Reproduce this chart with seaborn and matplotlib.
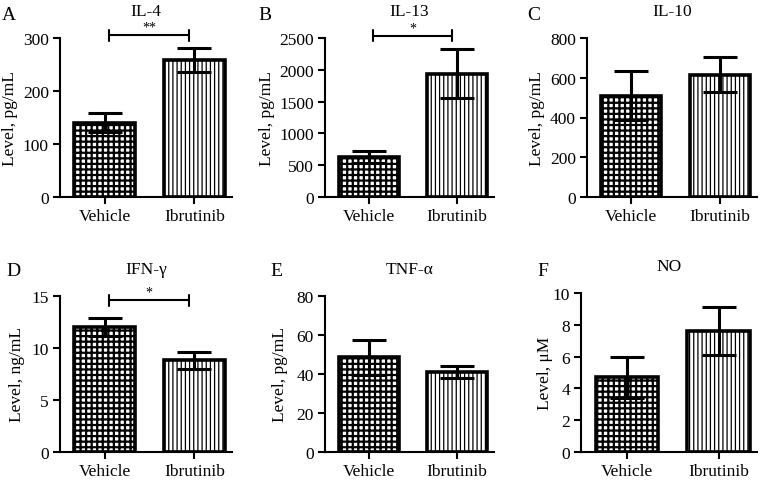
import numpy as np
import pandas as pd
import matplotlib
matplotlib.use("Agg")
import matplotlib.pyplot as plt
import seaborn as sns

sns.set_theme(style="ticks")
plt.rcParams['font.family'] = ['Liberation Serif', 'DejaVu Serif']

groups = ["Vehicle", "Ibrutinib"]
panels = ["A", "B", "C", "D", "E", "F"]
titles = ["IL-4", "IL-13", "IL-10", "IFN-γ", "TNF-α", "NO"]
ylabels = ["Level, pg/mL", "Level, pg/mL", "Level, pg/mL",
           "Level, ng/mL", "Level, pg/mL", "Level, μM"]
means = [[140, 258], [630, 1940], [510, 615], [12.0, 8.8], [48.5, 41.0], [4.7, 7.6]]
errs = [[18, 23], [100, 385], [125, 88], [0.85, 0.85], [9.0, 3.3], [1.3, 1.5]]
ymaxs = [300, 2500, 800, 15, 80, 10]
ysteps = [100, 500, 200, 5, 20, 2]
sig = ["**", "*", "", "*", "", ""]
sig_y = [305, 2535, 0, 14.6, 0, 0]

W, H = 767, 481
fig = plt.figure(figsize=(W / 100, H / 100), dpi=100)

# axes rectangles in pixels: x0, x1, ytop, ybottom
rects = [(60, 232, 39, 198), (325, 494, 39, 198), (587, 757, 39, 198),
         (60, 232, 297, 453), (325, 494, 297, 453), (581, 757, 294, 453)]
letter_pos = [(2, 20), (258, 20), (527, 20), (6, 276), (270, 276), (537, 276)]
ylab_x = [10, 267, 537, 17, 280, 545]

FS = 12.5
for i in range(6):
    x0, x1, yt, yb = rects[i]
    ax = fig.add_axes([x0 / W, 1 - yb / H, (x1 - x0) / W, (yb - yt) / H])
    df = pd.DataFrame({"group": groups, "value": means[i]})
    sns.barplot(data=df, x="group", y="value", ax=ax, color="white",
                width=0.68, edgecolor="black", linewidth=2.6, errorbar=None)
    for j, p in enumerate(ax.patches):
        p.set_facecolor("white")
        if j == 0:
            p.set_hatch("+++")
            if hasattr(p, "set_hatch_linewidth"):
                p.set_hatch_linewidth(1.6)
        else:
            p.set_hatch("||||")
            if hasattr(p, "set_hatch_linewidth"):
                p.set_hatch_linewidth(0.9)
        p.set_zorder(2)
    ax.errorbar(x=np.arange(2), y=means[i], yerr=errs[i], fmt="none",
                ecolor="black", elinewidth=2.2, capsize=12.5, capthick=2.2, zorder=3)
    ax.set_xlim(-0.5, 1.42)
    ax.set_ylim(0, ymaxs[i])
    ax.set_yticks(np.arange(0, ymaxs[i] + ysteps[i] / 2, ysteps[i]))
    ax.set_xlabel("")
    ax.set_ylabel("")
    sns.despine(ax=ax)
    for s in ["left", "bottom"]:
        ax.spines[s].set_linewidth(1.5)
        ax.spines[s].set_color("black")
    ax.tick_params(axis="both", direction="out", length=5, width=1.5,
                   colors="black", labelsize=FS, pad=3)
    ax.set_facecolor("none")
    # significance bracket
    if sig[i]:
        yb_ = sig_y[i]
        x_a, x_b = 0.05, 0.94
        ax.plot([x_a, x_b], [yb_, yb_], color="black", lw=1.5, clip_on=False)
        dy = ymaxs[i] * 0.035
        for xx in (x_a, x_b):
            ax.plot([xx, xx], [yb_ - dy, yb_ + dy], color="black", lw=1.5, clip_on=False)
        ax.text((x_a + x_b) / 2, yb_ + dy * 0.3, sig[i], ha="center", va="bottom",
                fontsize=10, color="black")
    # title, letter, ylabel
    fig.text(((x0 + x1) / 2) / W, 1 - (yt - 23) / H, titles[i], ha="center",
             va="baseline", fontsize=FS, color="black")
    lx, ly = letter_pos[i]
    fig.text(lx / W, 1 - ly / H, panels[i], ha="left", va="baseline",
             fontsize=14, color="black")
    fig.text(ylab_x[i] / W, 1 - ((yt + yb) / 2) / H, ylabels[i], rotation=90,
             ha="center", va="center", fontsize=FS, color="black")

fig.savefig("out.png", dpi=100)
